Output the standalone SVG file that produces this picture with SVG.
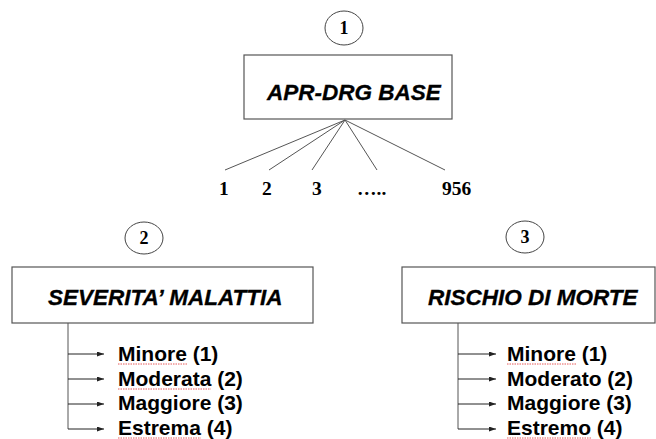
<svg xmlns="http://www.w3.org/2000/svg" width="656" height="439" viewBox="0 0 656 439">
<style>
.box{fill:#fff;stroke:#555;stroke-width:1.2}
.circ{fill:#fff;stroke:#444;stroke-width:1}
.num{font-family:"Liberation Serif",serif;font-weight:bold;font-size:18px;fill:#000;text-anchor:middle}
.fan{font-family:"Liberation Serif",serif;font-weight:bold;font-size:19.5px;fill:#000}
.title{font-family:"Liberation Sans",Arial,sans-serif;font-weight:bold;font-style:italic;font-size:22.5px;fill:#000;stroke:#000;stroke-width:0.3}
.item{font-family:"Liberation Sans",Arial,sans-serif;font-weight:bold;font-size:21px;fill:#000}
.ln{stroke:#555;stroke-width:1;fill:none}
.arr{stroke:#222;stroke-width:1;fill:none;marker-end:url(#ah)}
.sq{stroke:#e03030;stroke-width:0.8;fill:none;stroke-dasharray:1.5 1}
</style>
<defs>
<marker id="ah" viewBox="0 0 7 5" refX="7" refY="2.5" markerWidth="7" markerHeight="5" markerUnits="userSpaceOnUse" orient="auto">
<path d="M0,0 L7,2.5 L0,5 z" fill="#222"/>
</marker>
</defs>

<g id="connectors">
<path class="ln" d="M345,120 L225,170 M345,120 L269,170 M345,120 L312,170 M345,120 L377,170 M345,120 L445,170"/>
<path class="ln" d="M68,323 L68,429 M458,323 L458,429"/>
<path class="arr" d="M68,354 L104,354"/>
<path class="arr" d="M68,379 L104,379"/>
<path class="arr" d="M68,404 L104,404"/>
<path class="arr" d="M68,429 L104,429"/>
<path class="arr" d="M458,354 L496,354"/>
<path class="arr" d="M458,379 L496,379"/>
<path class="arr" d="M458,404 L496,404"/>
<path class="arr" d="M458,429 L496,429"/>
</g>

<g id="badge1">
<ellipse class="circ" cx="344" cy="28" rx="19" ry="17"/>
<text class="num" x="344" y="34">1</text>
</g>
<g id="badge2">
<ellipse class="circ" cx="144" cy="238" rx="19" ry="16"/>
<text class="num" x="144" y="244">2</text>
</g>
<g id="badge3">
<ellipse class="circ" cx="525" cy="237" rx="19" ry="16"/>
<text class="num" x="525" y="243">3</text>
</g>

<g id="apr-drg-base">
<rect class="box" x="244" y="55" width="208" height="64"/>
<text class="title" x="267" y="100">APR-DRG BASE</text>
</g>

<g id="fan-labels">
<text class="fan" x="219" y="195">1</text>
<text class="fan" x="262" y="195">2</text>
<text class="fan" x="312" y="195">3</text>
<text class="fan" x="357" y="195">…..</text>
<text class="fan" x="442" y="195">956</text>
</g>

<g id="severita">
<rect class="box" x="12" y="267" width="301" height="56"/>
<text class="title" x="48" y="305">SEVERITA’ MALATTIA</text>
</g>
<g id="severita-items">
<text class="item" x="118" y="361">Minore (1)</text>
<text class="item" x="118" y="386">Moderata (2)</text>
<text class="item" x="118" y="410">Maggiore (3)</text>
<text class="item" x="118" y="435">Estrema (4)</text>
<path class="sq" d="M118,364 L187,364 M118,389 L211,389 M118,438 L201,438"/>
</g>

<g id="rischio">
<rect class="box" x="402" y="267" width="253" height="56"/>
<text class="title" x="428" y="305">RISCHIO DI MORTE</text>
</g>
<g id="rischio-items">
<text class="item" x="507" y="361">Minore (1)</text>
<text class="item" x="507" y="386">Moderato (2)</text>
<text class="item" x="507" y="410">Maggiore (3)</text>
<text class="item" x="507" y="435">Estremo (4)</text>
<path class="sq" d="M507,364 L576,364 M507,438 L591,438"/>
</g>
</svg>
